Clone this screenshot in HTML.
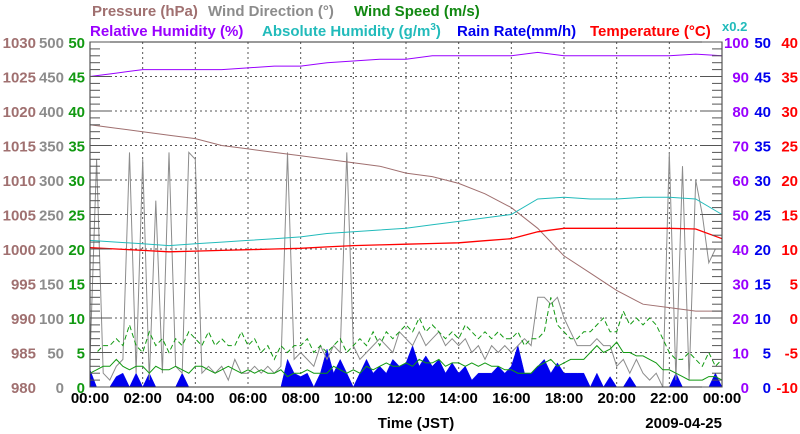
<!DOCTYPE html>
<html><head><meta charset="utf-8"><style>
body{margin:0;background:#fff;}
svg{display:block;font-family:"Liberation Sans",sans-serif;font-weight:bold;}
</style></head><body>
<svg id="c" width="800" height="434" viewBox="0 0 800 434">
<g font-size="15">
<text x="92" y="16" fill="#a07070">Pressure (hPa)</text>
<text x="208" y="16" fill="#8c8c8c">Wind Direction (°)</text>
<text x="354" y="16" fill="#118811">Wind Speed (m/s)</text>
<text x="90" y="36" fill="#9900ff">Relative Humidity (%)</text>
<text x="262" y="36" fill="#22bbbb">Absolute Humidity (g/m<tspan dy="-6" font-size="10">3</tspan><tspan dy="6">)</tspan></text>
<text x="457" y="36" fill="#0000ee">Rain Rate(mm/h)</text>
<text x="590" y="36" fill="#ff0000">Temperature (°C)</text>
<text x="722" y="31" fill="#22bbbb" font-size="13">x0.2</text>
</g>
<g id="grid"></g>
<g id="series"></g>
<g id="axes"></g>
<text x="416" y="428" font-size="15" text-anchor="middle">Time (JST)</text>
<text x="722" y="428" font-size="15" text-anchor="end">2009-04-25</text>
</svg>
<script>
const xTicks=["00:00","02:00","04:00","06:00","08:00","10:00","12:00","14:00","16:00","18:00","20:00","22:00","00:00"];
const pressureTicks=[980,985,990,995,1000,1005,1010,1015,1020,1025,1030];
const dirTicks=[0,50,100,150,200,250,300,350,400,450,500];
const speedTicks=[0,5,10,15,20,25,30,35,40,45,50];
const rhTicks=[0,10,20,30,40,50,60,70,80,90,100];
const rainTicks=[0,5,10,15,20,25,30,35,40,45,50];
const tempTicks=[-10,-5,0,5,10,15,20,25,30,35,40];
// hourly series (0..24h)
const pressure=[1018,1017.5,1017,1016.5,1016,1015,1014.5,1014,1013.5,1013,1012.5,1012,1011,1010.5,1009.5,1008,1006,1003,999,996.5,994,992,991.5,991,991];
const relHumidity=[90,91,92,92,92,92,92.5,93,93,94,94.5,95,95,96,96,96,96,97,96,96,96,96,96,96.5,96];
const absHumidity=[8.5,8.4,8.3,8.2,8.3,8.4,8.5,8.6,8.7,8.9,9.0,9.1,9.2,9.4,9.6,9.8,10.0,10.9,11.0,10.9,10.9,11.0,11.0,10.9,10.0];
const temperature=[10.2,10,9.8,9.6,9.7,9.8,9.9,10,10.1,10.3,10.5,10.6,10.7,10.8,10.9,11.2,11.5,12.5,13,13,13,13,13,12.9,11.5];
// 15-minute series
const rainRate=[2.5,0,0,0, 1.5,2,0,2, 0,2,0,0, 0,0,2,0, 0,0,0,0, 0,0,0,0, 0,0,0,0, 0,0,4,2, 1.5,2,0,2, 5.5,2,4,2, 0,2,4,2, 3,2,4,3, 3.5,6,3,4.5, 3,4,2,3.5, 2,3,1,2, 2,2,3,2, 3,6,2,2, 3,4,2,3.5, 2,2,2,2, 0,2,0,1.5, 0,0,1.5,0, 0,0,0,0, 0,2,0,0, 0,0,0,2, 0];
const windDir=[40,330,20,10, 30,40,340,20, 330,10,270,20, 340,30,20,340, 330,20,30,20, 30,10,40,20, 20,30,20,30, 20,30,340,40, 50,40,30,60, 40,60,50,340, 60,40,50,60, 70,60,50,80, 70,60,80,60, 70,80,60,70, 60,70,50,60, 40,60,50,60, 50,60,70,60, 130,130,120,130, 100,80,60,60, 60,70,60,60, 30,40,20,40, 20,10,20,0, 340,10,320,10, 300,250,180,200, 200];
const windSpeed=[2,2.5,3,3, 4,3,2.5,3, 3,2,3,2.5, 2.5,3,2.5,2, 3,3,2.5,2, 2.5,3,2.5,2, 2.5,2,2.5,2, 2,2.5,1.5,2, 2,2.5,2,2, 2,3,2.5,2, 2.5,2,3,2.5, 3,3.5,3,3, 3.5,3,4,3.5, 3.5,4,3,3.5, 3.5,3,3.5,3, 3.5,3,3,2.5, 2.5,2,2,2, 3,3.5,4,3, 3.5,4,4,4, 5,6,5,5.5, 6.5,5,5,4.5, 4.5,4,3.5,2.5, 2.5,2,1.5,1, 1,1,1.5,1.5, 1];
const windGust=[5,5,6,6, 7,6,9,6, 5,8,6,7, 5,7,6,8, 7,6,8,6, 7,6,6,8, 6,7,5,6, 4,6,5,6, 6,7,5,6, 5,6,7,5, 6,7,6,8, 6,8,7,8, 9,8,10,8, 9,8,7,8, 7,9,8,7, 8,7,8,7, 7,8,6,7, 7,8,13,9, 8,7,7,8, 8,9,10,8, 8,11,9,10, 9,10,9,7, 5,4,4,5, 4,3,5,3, 4];

const L=90,R=722,T=42,B=387,NS="http://www.w3.org/2000/svg";
const X=h=>L+(R-L)*h/24;
const lin=(a,b)=>v=>B-(B-T)*(v-a)/(b-a);
const yP=lin(980,1030),yD=lin(0,500),yS=lin(0,50),yRH=lin(0,100),yAH=v=>yRH(v/0.2),yR=lin(0,50),yT=lin(-10,40);
function mk(tag,attrs,parent){const e=document.createElementNS(NS,tag);for(const k in attrs)e.setAttribute(k,attrs[k]);parent.appendChild(e);return e;}
const grid=document.getElementById('grid'),ser=document.getElementById('series'),ax=document.getElementById('axes');
for(let i=1;i<10;i++){const y=T+(B-T)*i/10;const g=mk('line',{x1:L,x2:R,y1:y,y2:y,stroke:'#555','stroke-width':1,'stroke-dasharray':'2,3'},grid);

}
for(let i=1;i<12;i++){const x=X(i*2);const g=mk('line',{x1:x,x2:x,y1:T,y2:B,stroke:'#555','stroke-width':1,'stroke-dasharray':'2,3'},grid);

}
function path(arr,step,yf,attrs,name){let d='';arr.forEach((v,i)=>{d+=(i?'L':'M')+X(i*step).toFixed(1)+','+yf(v).toFixed(1);});
const p=mk('path',Object.assign({d:d,fill:'none'},attrs),ser);

}
let rd='M'+X(0)+','+B;rainRate.forEach((v,i)=>{rd+='L'+X(i*0.25).toFixed(1)+','+yR(v).toFixed(1);});rd+='L'+X(24)+','+B+'Z';
const rp=mk('path',{d:rd,fill:'#0000ee',stroke:'#0000ee','stroke-width':0.5},ser);


path(windDir,0.25,yD,{stroke:'#8c8c8c','stroke-width':1},'wind-direction-line');
path(windGust,0.25,yS,{stroke:'#119911','stroke-width':1,'stroke-dasharray':'5,3'},'wind-gust-line');
path(windSpeed,0.25,yS,{stroke:'#119911','stroke-width':1},'wind-speed-line');
path(pressure,1,yP,{stroke:'#a07070','stroke-width':1},'pressure-line');
path(absHumidity,1,yAH,{stroke:'#22bbbb','stroke-width':1},'absolute-humidity-line');
path(temperature,1,yT,{stroke:'#ff0000','stroke-width':1.3},'temperature-line');
path(relHumidity,1,yRH,{stroke:'#9900ff','stroke-width':1},'relative-humidity-line');
const fr=mk('rect',{x:L,y:T,width:R-L,height:B-T,fill:'none',stroke:'#333','stroke-width':1},ax);


for(let i=0;i<=50;i++){const y=T+(B-T)*i/50,len=i%5?10:20;
mk('line',{x1:L,x2:L+len,y1:y,y2:y,stroke:'#555'},ax);mk('line',{x1:R-len,x2:R,y1:y,y2:y,stroke:'#555'},ax);}
function labels(arr,x,anchor,color,name,fs){arr.forEach((t,i)=>{const e=mk('text',{x:x,y:B-(B-T)*i/10+6,'text-anchor':anchor,fill:color,'font-size':fs},ax);e.textContent=t;

});}
labels(pressureTicks,36,'end','#a07070','pressure-tick-label',15);
labels(dirTicks,64,'end','#8c8c8c','wind-direction-tick-label',15);
labels(speedTicks,85,'end','#119911','wind-speed-tick-label',15);
labels(rhTicks,749,'end','#9900ff','rh-tick-label',15);
labels(rainTicks,771,'end','#0000ee','rain-tick-label',15);
labels(tempTicks,798,'end','#ff0000','temperature-tick-label',15);
xTicks.forEach((t,i)=>{const e=mk('text',{x:X(i*2),y:403,'text-anchor':'middle','font-size':15,fill:'#000'},ax);e.textContent=t;

});
</script>
</body></html>
